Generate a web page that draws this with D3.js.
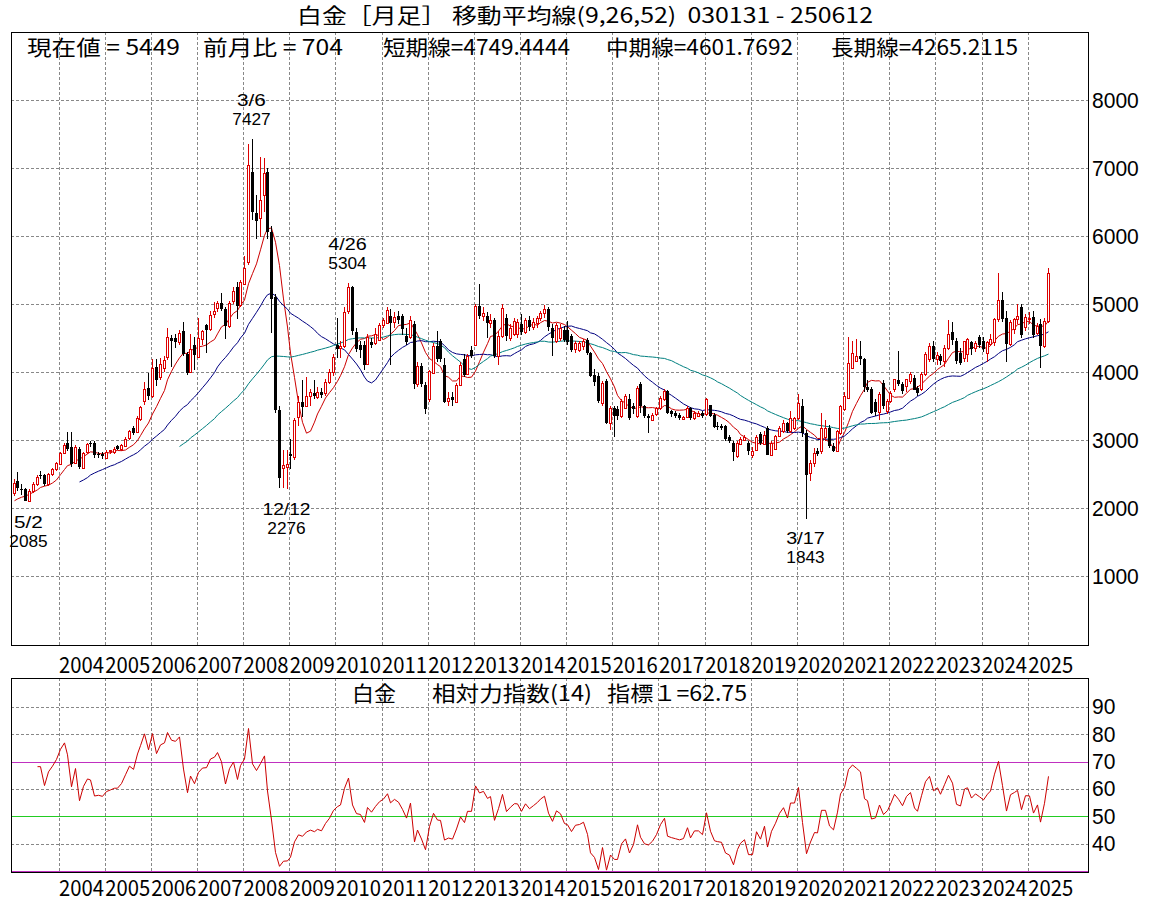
<!DOCTYPE html>
<html>
<head>
<meta charset="utf-8">
<script src="https://cdn.jsdelivr.net/npm/d3@7"></script>
<style>
body { margin: 0; background: #fff; }
text { font-family: "Noto Sans CJK JP", sans-serif; }
</style>
</head>
<body>
<script>
// monthly platinum, 2003-01 .. 2025-06
var startYear = 2003;
// closes for the 8 months before the first candle (needed by the moving averages / RSI)
var preCloses = [2050, 2030, 1950, 2000, 2080, 2150, 2150, 2180];

var opens = [
  2220,2390,2280,2280,2110,2250,2350,2480,2480,2350,2500,2570, // 2003
  2660,2815,2950,2890,2670,2870,2600,2820,2950,2950,2790,2800, // 2004
  2740,2830,2825,2910,2855,2920,3025,3180,3130,3300,3580,3760, // 2005
  3650,4075,3930,4060,4220,4500,4500,4450,4610,4270,4000,4390, // 2006
  4220,4490,4690,4630,4840,4940,5015,4920,4670,5040,5250,4990, // 2007
  5300,5610,6940,6333,6260,6603,6946,6060,5100,3440,2584,2590, // 2008
  2800,2750,3345,3560,3490,3640,3690,3640,3700,3700,3860,4005, // 2009
  4397,4350,4380,4887,5245,4593,4397,4397,4128,4446,4422,4471, // 2010
  4691,4716,4824,4740,4819,4819,4535,4525,4700,3814,4084,3814, // 2011
  3594,3995,4388,4451,4108,3569,3628,3569,3814,4192,3976,4329, // 2012
  4402,4966,4819,4819,4721,4770,4241,4525,4794,4500,4549,4560, // 2013
  4700,4580,4760,4660,4730,4800,4870,4920,4650,4450,4500,4620, // 2014
  4620,4530,4330,4330,4380,4476,4280,3950,3937,3545,3863,3251, // 2015
  3471,3457,3349,3471,3600,3495,3349,3830,3495,3349,3300,3375, // 2016
  3471,3594,3716,3420,3400,3370,3320,3345,3471,3330,3355,3400, // 2017
  3374,3508,3374,3210,3210,3204,3047,2958,2761,2949,3000,2958, // 2018
  2771,2860,3081,2950,3178,2785,2860,3054,3128,3252,3128,3178, // 2019
  3330,3500,3103,2512,2660,2845,2833,3050,3178,2907,2833,3104, // 2020
  3448,3621,4064,4163,4237,4187,3784,3754,3560,3399,3842,3424, // 2021
  3572,3744,3882,3818,3784,3867,3918,3769,3744,3966,4187,4384, // 2022
  4187,4237,4163,4350,4582,4458,4286,4212,4261,4443,4345,4508, // 2023
  4458,4276,4409,4434,4778,5060,4790,4409,4630,4778,4951,4655, // 2024
  4780,4803,4581,4704,4380,4745                                // 2025
];
var highs = [
  2420,2530,2360,2300,2280,2380,2490,2540,2500,2520,2590,2680,
  2830,2960,3120,3120,2930,2900,2830,2960,2990,2990,2830,2820,
  2850,2860,2890,2930,2940,3040,3150,3210,3350,3500,3860,3990,
  4190,4190,4200,4230,4650,4550,4560,4620,4730,4300,4560,4520,
  4790,4620,4700,4900,5030,5050,5160,4950,5050,5250,5320,5360,
  5700,7360,7427,6600,7166,7150,7000,6150,5150,3500,2850,2860,
  3020,3320,3650,3880,3920,3750,3880,3780,3760,3900,4050,4260,
  4800,4450,4950,5304,5270,4650,4450,4450,4560,4500,4650,4720,
  4800,4960,4930,4880,4900,4850,4650,4830,4750,4150,4130,3850,
  4030,4420,4600,4480,4200,3700,3700,3840,4150,4260,4260,4380,
  5000,5299,4950,4880,4850,4800,4600,5000,4850,4700,4800,4780,
  4850,4800,4820,4800,4830,4900,4990,4950,4700,4720,4700,4680,
  4750,4560,4450,4450,4480,4500,4300,4050,3980,3870,3900,3500,
  3500,3500,3600,3680,3680,3550,3800,3850,3520,3380,3400,3480,
  3650,3750,3740,3440,3420,3400,3360,3500,3490,3420,3420,3420,
  3620,3520,3400,3260,3230,3220,3080,2980,2990,3050,3070,2980,
  2900,3080,3120,3130,3200,2980,3070,3200,3300,3260,3420,3340,
  3680,3600,3150,2700,2880,2880,3400,3300,3220,2950,3150,3520,
  3700,4522,4450,4480,4460,4200,3880,3780,3600,3700,3880,3600,
  3720,3900,4310,3850,3900,4000,3950,3800,4000,4300,4420,4450,
  4300,4260,4400,4770,4739,4500,4350,4460,4500,4460,4460,4550,
  4520,4460,4560,4800,5460,5180,4900,4760,4800,5000,5000,4850,
  4880,4900,4720,4780,4790,5530
];
var lows = [
  2180,2250,2190,2100,2085,2220,2320,2420,2330,2330,2470,2550,
  2640,2790,2840,2600,2640,2570,2580,2800,2900,2740,2740,2720,
  2720,2790,2800,2850,2840,2900,3000,3080,3110,3280,3520,3590,
  3620,3800,3880,4000,4180,4080,4350,4400,4240,3960,3980,4030,
  4200,4400,4280,4600,4800,4880,4900,4480,4640,5000,4780,4950,
  5280,5580,6235,5950,5990,6350,5950,4570,3400,2290,2290,2276,
  2580,2700,3200,3340,3480,3500,3600,3600,3620,3650,3830,3940,
  4200,4200,4350,4850,4550,4300,4200,4030,4100,4350,4400,4450,
  4650,4700,4100,4650,4700,4550,4400,4480,3750,3780,3780,3383,
  3560,3980,4150,4150,3540,3500,3500,3550,3800,3930,3950,4200,
  4380,4780,4750,4500,4650,4200,4100,4500,4450,4450,4530,4500,
  4550,4560,4600,4620,4650,4750,4800,4600,4230,4430,4450,4440,
  4400,4300,4280,4300,4320,4250,3920,3800,3540,3500,3230,3150,
  3050,3300,3320,3450,3300,3380,3330,3400,3330,3100,3280,3360,
  3440,3570,3380,3340,3330,3300,3290,3330,3300,3300,3340,3330,
  3350,3340,3180,3150,3150,2990,2950,2688,2740,2930,2980,2780,
  2740,2840,2930,2930,2780,2770,2850,3040,3100,3100,3100,3150,
  3300,3050,1843,2400,2600,2760,2800,2980,2880,2820,2820,3080,
  3420,3600,4050,4150,4100,3700,3700,3380,3350,3300,3450,3380,
  3550,3700,3800,3680,3700,3820,3740,3650,3720,3940,4150,4150,
  4100,4100,4080,4320,4400,4120,4100,4150,4150,4250,4300,4350,
  4300,4150,4380,4380,4740,4740,4140,4380,4560,4700,4500,4600,
  4700,4500,4550,4060,4350,4720
];
var closes = [
  2370,2280,2260,2110,2250,2350,2460,2460,2350,2500,2570,2660,
  2815,2930,2860,2640,2900,2600,2815,2940,2930,2770,2780,2770,
  2830,2850,2870,2870,2920,3020,3130,3110,3330,3480,3750,3640,
  4060,3890,4120,4180,4520,4450,4440,4575,4270,3990,4340,4240,
  4500,4610,4620,4840,4890,5015,4920,4670,5015,5190,4970,5330,
  5530,7040,6357,6210,6530,6922,6060,5080,3440,2440,2630,2640,
  2765,3300,3560,3490,3640,3700,3640,3710,3660,3860,4005,4226,
  4334,4380,4880,5245,4593,4348,4324,4103,4520,4397,4559,4691,
  4765,4912,4726,4814,4760,4623,4451,4770,3814,4084,3814,3456,
  4010,4388,4192,4182,3569,3618,3584,3814,4108,3961,4241,4241,
  4975,4819,4868,4721,4770,4241,4534,4941,4525,4647,4745,4740,
  4580,4760,4660,4730,4800,4870,4930,4650,4500,4690,4640,4470,
  4450,4330,4420,4430,4460,4280,3946,3850,3570,3839,3251,3471,
  3349,3349,3569,3643,3324,3447,3765,3500,3349,3320,3375,3470,
  3618,3716,3398,3370,3350,3330,3345,3471,3320,3400,3400,3350,
  3596,3350,3203,3190,3180,3017,2983,2820,2958,3017,3050,2835,
  2835,3047,2949,3080,2785,2958,3054,3178,3252,3128,3325,3325,
  3550,3103,2488,2660,2808,2800,3178,3178,2907,2833,3128,3498,
  3646,4138,4286,4237,4187,3769,3735,3399,3420,3670,3498,3572,
  3695,3892,3818,3720,3892,3966,3744,3695,3966,4261,4384,4187,
  4250,4163,4350,4557,4458,4163,4138,4458,4483,4345,4420,4384,
  4345,4434,4483,4778,5060,4778,4409,4729,4778,4820,4532,4803,
  4800,4532,4680,4384,4745,5449
];

var priceTicks = [1000, 2000, 3000, 4000, 5000, 6000, 7000, 8000];
var rsiTicks = [40, 50, 60, 70, 80, 90];
var rsiGrid = [40, 60, 80, 90];
var maPeriods = [9, 26, 52];
var maColors = ["#cc0000", "#000080", "#008080"];
var rsiPeriod = 14;
var rsiLastText = "62.75";
// marked highs and lows: month index, date text
var marks = [
  {i: 4, date: "5/2", kind: "low"},
  {i: 62, date: "3/6", kind: "high"},
  {i: 71, date: "12/12", kind: "low"},
  {i: 87, date: "4/26", kind: "high"},
  {i: 206, date: "3/17", kind: "low"}
];
var titleText = "白金［月足］ 移動平均線(9,26,52)  030131 - 250612";
var infoTexts = [
  {t: "現在値 = 5449", x: 27, w: 153},
  {t: "前月比 = 704", x: 203, w: 140},
  {t: "短期線=4749.4444", x: 383, w: 187},
  {t: "中期線=4601.7692", x: 606, w: 187},
  {t: "長期線=4265.2115", x: 831, w: 187}
];

var n = closes.length;
var svg = d3.select("body").append("svg")
  .attr("width", 1171).attr("height", 902);

var left = 11, right = 1088;
var x = d3.scaleLinear().domain([0, 270]).range([12.35, 12.35 + 270 * 3.846]);
var cx = function(i) { return Math.round(x(i) + 1.2) + 0.5; };
var yMain = d3.scaleLinear().domain([0, 9000]).range([644, 32]);
var yRsi = d3.scaleLinear().domain([30, 100]).range([871, 679.5]);
var crisp = function(v) { return Math.round(v) + 0.5; };

var yearIdx = d3.range(12, n, 12);

function label(x0, y0, txt, size, w, anchor) {
  var t = svg.append("text").attr("x", x0).attr("y", y0).attr("dy", "0.36em")
    .attr("xml:space", "preserve")
    .attr("text-anchor", anchor || "start")
    .style("font-size", size + "px").text(txt);
  if (w) t.attr("textLength", w).attr("lengthAdjust", "spacingAndGlyphs");
  return t;
}

function grid(top, bottom, yScale, vals) {
  var g = svg.append("g")
    .attr("stroke", "#888").attr("stroke-dasharray", "3,2")
    .attr("shape-rendering", "crispEdges");
  g.selectAll("line.h").data(vals).enter().append("line")
    .attr("x1", left).attr("x2", right)
    .attr("y1", d => crisp(yScale(d))).attr("y2", d => crisp(yScale(d)));
  g.selectAll("line.v").data(yearIdx).enter().append("line")
    .attr("x1", d => crisp(x(d))).attr("x2", d => crisp(x(d)))
    .attr("y1", top).attr("y2", bottom);
}

function yearAxis(y) {
  var ax = svg.append("g").attr("transform", "translate(0," + y + ")")
    .call(d3.axisBottom(x).tickValues(yearIdx).tickSize(0).tickPadding(0)
      .tickFormat(d => String(startYear + d / 12)));
  ax.select(".domain").remove();
  ax.selectAll("text")
    .attr("x", 0).attr("y", 0).attr("dy", "0.35em")
    .attr("text-anchor", "start")
    .attr("textLength", 45).attr("lengthAdjust", "spacingAndGlyphs")
    .style("font-family", "Noto Sans CJK JP").style("font-size", "22px")
    .attr("fill", "#000");
  ax.selectAll(".tick").attr("transform", d => "translate(" + (x(d) + 0.5) + ",0)");
}

function valueAxis(yScale, vals) {
  var ax = svg.append("g").attr("transform", "translate(" + right + ",0)")
    .call(d3.axisRight(yScale).tickValues(vals).tickSize(0).tickPadding(4)
      .tickFormat(d3.format("d")));
  ax.select(".domain").remove();
  ax.selectAll("text")
    .attr("textLength", d => String(d).length * 11.7).attr("lengthAdjust", "spacingAndGlyphs")
    .style("font-family", "Liberation Sans").style("font-size", "22px")
    .attr("fill", "#000");
}

// ---- main panel
grid(32, 645, yMain, priceTicks);

// moving averages
var all = preCloses.concat(closes);
var off = preCloses.length;
maPeriods.forEach(function(p, k) {
  var vals = d3.range(n).map(function(i) {
    var j = i + off;
    return j >= p - 1 ? d3.mean(all.slice(j - p + 1, j + 1)) : null;
  });
  svg.append("path")
    .datum(d3.range(n))
    .attr("fill", "none").attr("stroke", maColors[k]).attr("stroke-width", 1)
    .attr("d", d3.line().defined(i => vals[i] !== null).x(i => cx(i)).y(i => yMain(vals[i])));
});

// candles
var bars = d3.range(n).map(i => ({i: i, o: opens[i], h: highs[i], l: lows[i], c: closes[i]}));
var cg = svg.append("g").attr("shape-rendering", "crispEdges");
cg.selectAll("line").data(bars).enter().append("line")
  .attr("x1", d => cx(d.i)).attr("x2", d => cx(d.i))
  .attr("y1", d => Math.round(yMain(d.h))).attr("y2", d => Math.round(yMain(d.l)))
  .attr("stroke", d => d.c >= d.o ? "#dd0000" : "#000");
cg.selectAll("rect").data(bars).enter().append("rect")
  .attr("x", d => d.c >= d.o ? cx(d.i) - 1 : cx(d.i) - 1.5)
  .attr("width", d => d.c >= d.o ? 2 : 3)
  .attr("y", d => d.c >= d.o ? crisp(yMain(d.c)) : Math.round(yMain(d.o)))
  .attr("height", d => Math.max(1, Math.round(Math.abs(yMain(d.o) - yMain(d.c)))))
  .attr("fill", d => d.c >= d.o ? "#fff" : "#000")
  .attr("stroke", d => d.c >= d.o ? "#dd0000" : "none");

svg.append("rect").attr("x", left + 0.5).attr("y", 32.5).attr("width", right - left).attr("height", 613)
  .attr("fill", "none").attr("stroke", "#000").attr("shape-rendering", "crispEdges");

// high / low marks: date over value
marks.forEach(function(m) {
  var v = m.kind === "high" ? highs[m.i] : lows[m.i];
  var yy = yMain(v);
  var top = m.kind === "high" ? yy - 39 : yy + 20;
  var mx = cx(m.i) - 1;
  [m.date, String(v)].forEach(function(s, k) {
    svg.append("text").attr("x", mx).attr("y", top + k * 19).attr("dy", "0.36em")
      .attr("text-anchor", "middle")
      .attr("textLength", s.length * 9.6).attr("lengthAdjust", "spacingAndGlyphs")
      .style("font-family", "Liberation Sans").style("font-size", "16px").text(s);
  });
});

// titles
label(297, 15, titleText, 21, 576);
infoTexts.forEach(function(d) { label(d.x, 47, d.t, 21, d.w); });

valueAxis(yMain, priceTicks);
yearAxis(665);

// ---- RSI panel (Wilder smoothing)
grid(678, 872, yRsi, rsiGrid);

var rsi = new Array(n).fill(null);
var avgUp = 0, avgDn = 0;
for (var j = 1; j < all.length; j++) {
  var ch = all[j] - all[j - 1];
  var u = ch > 0 ? ch : 0, dn = ch < 0 ? -ch : 0;
  if (j <= rsiPeriod) {
    avgUp += u / rsiPeriod; avgDn += dn / rsiPeriod;
  } else {
    avgUp = (avgUp * (rsiPeriod - 1) + u) / rsiPeriod;
    avgDn = (avgDn * (rsiPeriod - 1) + dn) / rsiPeriod;
  }
  if (j >= rsiPeriod && j - off >= 0) rsi[j - off] = 100 * avgUp / (avgUp + avgDn);
}

[[70, "#c030c0"], [30, "#c030c0"], [50, "#22cc22"]].forEach(function(l) {
  svg.append("line").attr("x1", left).attr("x2", right)
    .attr("y1", crisp(yRsi(l[0]))).attr("y2", crisp(yRsi(l[0])))
    .attr("stroke", l[1]).attr("shape-rendering", "crispEdges");
});

svg.append("path").datum(d3.range(n))
  .attr("fill", "none").attr("stroke", "#cc0000").attr("stroke-width", 1)
  .attr("d", d3.line().defined(i => rsi[i] !== null).x(i => cx(i)).y(i => yRsi(rsi[i])));

svg.append("rect").attr("x", left + 0.5).attr("y", 678.5).attr("width", right - left).attr("height", 194)
  .attr("fill", "none").attr("stroke", "#000").attr("shape-rendering", "crispEdges");

label(352, 693, "白金", 21, 44);
label(432, 693, "相対力指数(14)", 21, 160);
label(607, 693, "指標１=" + rsiLastText, 21, 140);

valueAxis(yRsi, rsiTicks);
yearAxis(888);
</script>
</body>
</html>
